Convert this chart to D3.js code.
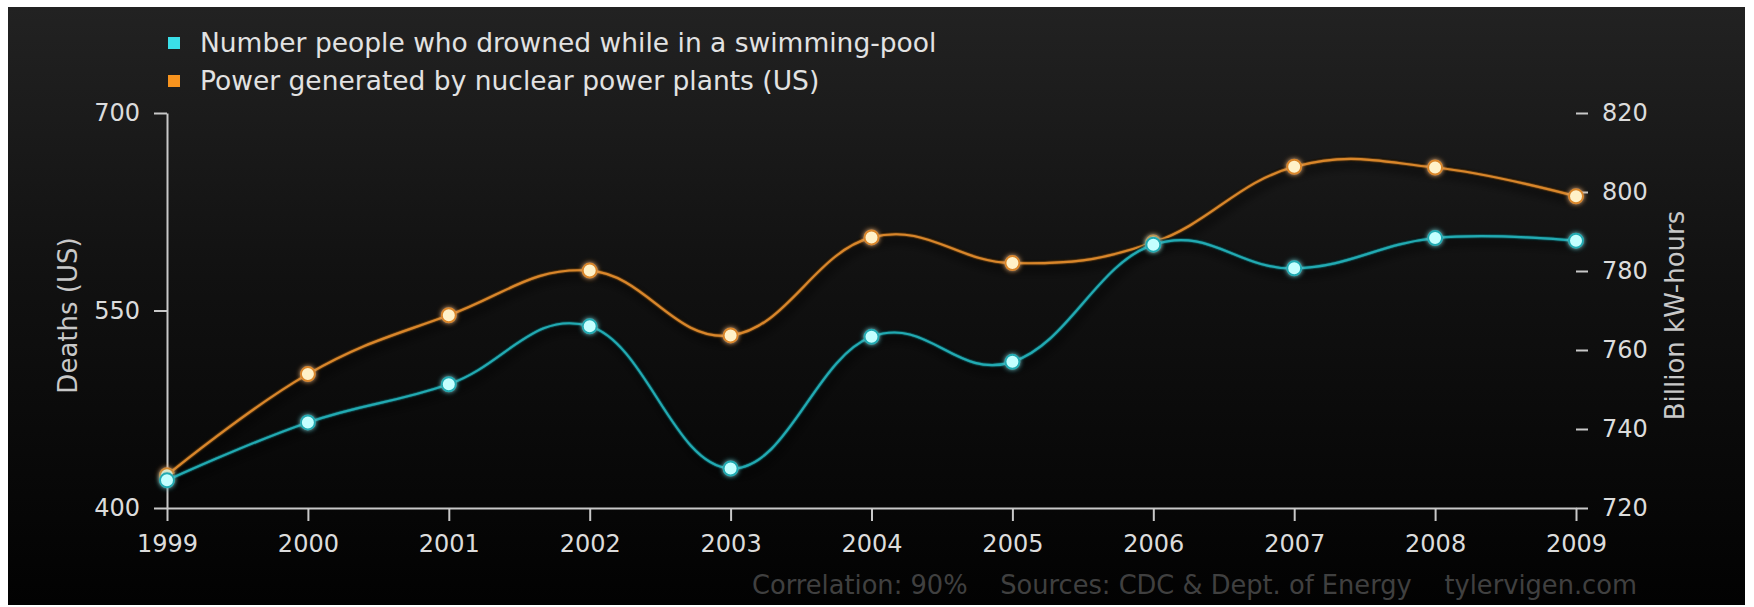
<!DOCTYPE html>
<html>
<head>
<meta charset="utf-8">
<script src="https://cdn.jsdelivr.net/npm/d3@7/dist/d3.min.js"></script>
<style>
  html, body { margin: 0; padding: 0; background: #ffffff; }
  svg { display: block; }
  text { font-family: "DejaVu Sans", Verdana, sans-serif; }
</style>
</head>
<body>
<svg id="chart" width="1754" height="607"></svg>
<script>
// ---------- data ----------
const years = [1999, 2000, 2001, 2002, 2003, 2004, 2005, 2006, 2007, 2008, 2009];
const drownings = [421, 465, 494, 538, 430, 530, 511, 600, 582, 605, 603];
const nuclear = [728.3, 753.9, 768.8, 780.1, 763.7, 788.5, 782.0, 787.2, 806.4, 806.2, 798.9];
const leftTicks = [400, 550, 700];
const rightTicks = [720, 740, 760, 780, 800, 820];
const seriesNames = ["Number people who drowned while in a swimming-pool", "Power generated by nuclear power plants (US)"];
const leftTitle = "Deaths (US)";
const rightTitle = "Billion kW-hours";
const footer = "Correlation: 90%    Sources: CDC & Dept. of Energy    tylervigen.com";

// ---------- layout ----------
const plot = { left: 167, right: 1576, top: 113, bottom: 508 };
const svg = d3.select("#chart");
const defs = svg.append("defs");

const bg = defs.append("linearGradient").attr("id", "bg").attr("x1", 0).attr("y1", 0).attr("x2", 0).attr("y2", 1);
bg.append("stop").attr("offset", "0%").attr("stop-color", "#222222");
bg.append("stop").attr("offset", "45%").attr("stop-color", "#111111");
bg.append("stop").attr("offset", "100%").attr("stop-color", "#020202");

const shadow = defs.append("filter").attr("id", "shadow").attr("x", "-10%").attr("y", "-20%").attr("width", "120%").attr("height", "150%");
shadow.append("feDropShadow").attr("dx", 3).attr("dy", 6).attr("stdDeviation", 4)
  .attr("flood-color", "#000").attr("flood-opacity", 0.9);

const glow = defs.append("filter").attr("id", "glow").attr("x", "-100%").attr("y", "-100%").attr("width", "300%").attr("height", "300%");
glow.append("feGaussianBlur").attr("in", "SourceGraphic").attr("stdDeviation", 2.5).attr("result", "b");
const gm = glow.append("feMerge");
gm.append("feMergeNode").attr("in", "b");
gm.append("feMergeNode").attr("in", "SourceGraphic");

const lineGlow = defs.append("filter").attr("id", "lineGlow").attr("x", "-5%").attr("y", "-20%").attr("width", "110%").attr("height", "140%");
lineGlow.append("feGaussianBlur").attr("in", "SourceGraphic").attr("stdDeviation", 1.2).attr("result", "b");
const lm = lineGlow.append("feMerge");
lm.append("feMergeNode").attr("in", "b");
lm.append("feMergeNode").attr("in", "SourceGraphic");

// background panel
svg.append("rect").attr("x", 8).attr("y", 7).attr("width", 1737).attr("height", 598).attr("fill", "url(#bg)");

// ---------- scales ----------
const x = d3.scaleLinear().domain([1999, 2009]).range([plot.left, plot.right]);
const yL = d3.scaleLinear().domain([400, 700]).range([plot.bottom, plot.top]);
const yR = d3.scaleLinear().domain([720, 820]).range([plot.bottom, plot.top]);

// ---------- axes ----------
const axisColor = "#c8c8c8";
const tickText = "#dcdcdc";

const gx = svg.append("g").attr("transform", `translate(0,${plot.bottom})`)
  .call(d3.axisBottom(x).tickValues(years).tickFormat(d3.format("d")).tickSize(13).tickSizeOuter(0).tickPadding(14));
const gl = svg.append("g").attr("transform", `translate(${plot.left},0)`)
  .call(d3.axisLeft(yL).tickValues(leftTicks).tickSize(13).tickSizeOuter(0).tickPadding(14));
const gr = svg.append("g").attr("transform", `translate(${plot.right},0)`)
  .call(d3.axisRight(yR).tickValues(rightTicks).tickSize(12).tickSizeOuter(0).tickPadding(14));
gr.select(".domain").remove();

[gx, gl, gr].forEach(g => {
  g.selectAll(".domain").attr("stroke", axisColor).attr("stroke-width", 2);
  g.selectAll(".tick line").attr("stroke", axisColor).attr("stroke-width", 2);
  g.selectAll(".tick text").attr("fill", tickText).style("font-size", "24px")
    .style("font-family", "'DejaVu Sans', sans-serif");
});

// axis titles
svg.append("text").attr("transform", `translate(77,${(plot.top + plot.bottom) / 2 + 5}) rotate(-90)`)
  .attr("text-anchor", "middle").attr("fill", "#c8c8c8").style("font-size", "26px").text(leftTitle);
svg.append("text").attr("transform", `translate(1684,${(plot.top + plot.bottom) / 2 + 5}) rotate(-90)`)
  .attr("text-anchor", "middle").attr("fill", "#c8c8c8").style("font-size", "26px").text(rightTitle);

// ---------- spline (Highcharts-style control points) ----------
function splinePath(pts) {
  const p = d3.path();
  const smoothing = 1.5, denom = smoothing + 1;
  const rc = [];
  pts.forEach((pt, i) => {
    const [px, py] = pt;
    let lcx, lcy;
    if (i > 0 && i < pts.length - 1) {
      const [lx, ly] = pts[i - 1];
      const [nx, ny] = pts[i + 1];
      lcx = (smoothing * px + lx) / denom; lcy = (smoothing * py + ly) / denom;
      const rcx = (smoothing * px + nx) / denom;
      let rcy = (smoothing * py + ny) / denom;
      const corr = ((rcy - lcy) * (rcx - px)) / (rcx - lcx) + py - rcy;
      lcy += corr; rcy += corr;
      rc[i] = [rcx, rcy];
    }
    if (i === 0) { p.moveTo(px, py); }
    else {
      const prev = rc[i - 1] || pts[i - 1];
      const lc = (lcx !== undefined) ? [lcx, lcy] : [px, py];
      p.bezierCurveTo(prev[0], prev[1], lc[0], lc[1], px, py);
    }
  });
  return p.toString();
}

const series = [
  { name: seriesNames[1], values: nuclear, y: yR, color: "#d9862a", fill: "#fff1c8" },
  { name: seriesNames[0], values: drownings, y: yL, color: "#20aab2", fill: "#c4ffff" }
];

series.forEach(s => {
  const pts = years.map((yr, i) => [x(yr), s.y(s.values[i])]);
  const g = svg.append("g");
  g.append("path").attr("d", splinePath(pts)).attr("fill", "none")
    .attr("stroke", "#000").attr("stroke-width", 6).attr("stroke-opacity", 0.6).attr("filter", "url(#shadow)");
  g.append("path").attr("d", splinePath(pts)).attr("fill", "none")
    .attr("stroke", s.color).attr("stroke-width", 2.2).attr("filter", "url(#lineGlow)");
  g.selectAll("circle").data(pts).join("circle")
    .attr("cx", d => d[0]).attr("cy", d => d[1]).attr("r", 7)
    .attr("fill", s.fill).attr("stroke", s.color).attr("stroke-width", 2)
    .attr("filter", "url(#glow)");
});

// ---------- legend ----------
const legendItems = [
  { name: seriesNames[0], color: "#3adfe8" },
  { name: seriesNames[1], color: "#f7931e" }
];
const lg = svg.append("g");
legendItems.forEach((d, i) => {
  const cy = 43 + i * 38;
  lg.append("rect").attr("x", 168).attr("y", cy - 6).attr("width", 12).attr("height", 12).attr("fill", d.color);
  lg.append("text").attr("x", 200).attr("y", cy + 9).attr("fill", "#e2e2e2").style("font-size", "26.5px").text(d.name);
});

// ---------- footer ----------
svg.append("text").attr("x", 1637).attr("y", 594).attr("text-anchor", "end")
  .attr("fill", "#404040").style("font-size", "25.7px").style("white-space", "pre").text(footer);
</script>
</body>
</html>
